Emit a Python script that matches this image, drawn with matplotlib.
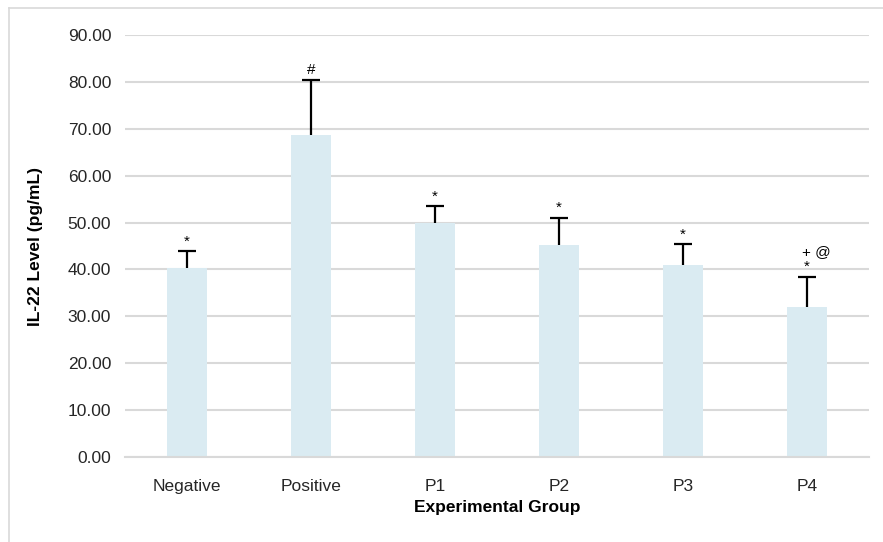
import numpy as np
import matplotlib.pyplot as plt
from matplotlib.lines import Line2D

plt.rcParams['font.family'] = ['Liberation Sans', 'DejaVu Sans']

# data
groups = ["Negative", "Positive", "P1", "P2", "P3", "P4"]
means = [40.3, 68.7, 49.9, 45.2, 40.9, 32.0]
errors = [3.6, 11.7, 3.6, 5.8, 4.5, 6.4]
marks = ["*", "#", "*", "*", "*", "*\n+ @"]

fig = plt.figure(figsize=(8.83, 5.42), dpi=100)
ax = fig.add_axes([0.1416, 0.1568, 0.8424, 0.7786])

x = np.arange(len(groups))
ax.bar(x, means, width=0.32, color='#DAEBF2', zorder=2)
eb = ax.errorbar(x, means, yerr=[np.zeros(len(errors)), errors], fmt='none',
                 ecolor='black', elinewidth=1.6, capsize=6.5, capthick=1.6, zorder=3)
eb[1][0].set_visible(False)  # only the upper cap

for xi, m, e, t in zip(x, means, errors, marks):
    if "\n" in t:
        star, extra = t.split("\n")
        ax.text(xi, m + e + 0.6, star, ha='center', va='bottom', fontsize=11)
        ax.text(xi + 0.08, m + e + 3.8, extra, ha='center', va='bottom', fontsize=11)
    else:
        ax.text(xi, m + e + 0.6, t, ha='center', va='bottom', fontsize=11)

ax.set_xlim(-0.5, len(groups) - 0.5)
ax.set_ylim(0, 90)
ax.set_yticks(np.arange(0, 91, 10))
ax.set_yticklabels([f"{v:.2f}" for v in np.arange(0, 91, 10)])
ax.set_xticks(x)
ax.set_xticklabels(groups)
ax.tick_params(axis='both', length=0, labelsize=12.5, labelcolor='#262626')
ax.tick_params(axis='y', pad=10)
ax.tick_params(axis='x', pad=16)
ax.yaxis.grid(True, color='#D9D9D9', linewidth=1.5, zorder=0)
ax.set_axisbelow(True)
for s in ['top', 'right', 'left']:
    ax.spines[s].set_visible(False)
ax.spines['bottom'].set_color('#D9D9D9')
ax.spines['bottom'].set_linewidth(1.5)

ax.set_xlabel("Experimental Group", fontsize=12.5, fontweight='bold', labelpad=4)
ax.set_ylabel("IL-22 Level (pg/mL)", fontsize=12.5, fontweight='bold', labelpad=18)

# outer frame (cropped)
fig.add_artist(Line2D([9/883, 9/883], [0, 1 - 8/542], transform=fig.transFigure,
                      color='#D9D9D9', linewidth=1.2))
fig.add_artist(Line2D([9/883, 1], [1 - 8/542, 1 - 8/542], transform=fig.transFigure,
                      color='#D9D9D9', linewidth=1.2))

plt.savefig("out.png", dpi=100)
